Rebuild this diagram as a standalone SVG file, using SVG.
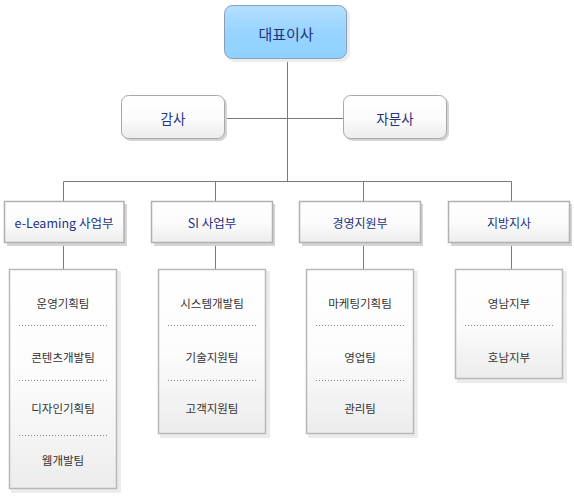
<svg xmlns="http://www.w3.org/2000/svg" width="574" height="496" viewBox="0 0 574 496">
<defs>
<linearGradient id="gBlue" x1="0" y1="0" x2="0" y2="1">
<stop offset="0" stop-color="#b4e0ff"/>
<stop offset="0.5" stop-color="#98d4ff"/>
<stop offset="1" stop-color="#8fd2ff"/>
</linearGradient>
<linearGradient id="gWhite" x1="0" y1="0" x2="0" y2="1">
<stop offset="0" stop-color="#ffffff"/>
<stop offset="0.55" stop-color="#fbfbfb"/>
<stop offset="1" stop-color="#ececec"/>
</linearGradient>
<linearGradient id="gSub" x1="0" y1="0" x2="0" y2="1">
<stop offset="0" stop-color="#ffffff"/>
<stop offset="0.5" stop-color="#fcfcfc"/>
<stop offset="1" stop-color="#ececec"/>
</linearGradient>
</defs>
<style>
.shadow{fill:#d4d4d4;}
.shadow2{fill:#ececec;}
.top{fill:url(#gBlue);stroke:#8a9db5;stroke-width:1;}
.rnd{fill:url(#gWhite);stroke:#a8a8a8;stroke-width:1;}
.dept{fill:url(#gWhite);stroke:#b0b0b0;stroke-width:1.5;}
.sub{fill:url(#gSub);stroke:#b8b8b8;stroke-width:1.5;}
.lbl{font-family:"Noto Sans CJK KR","Liberation Sans",sans-serif;fill:#1f3383;text-anchor:middle;dominant-baseline:central;}
.slbl{font-family:"Noto Sans CJK KR","Liberation Sans",sans-serif;fill:#333333;text-anchor:middle;dominant-baseline:central;font-size:11.5px;}
.conn{stroke:#7a7a7a;stroke-width:1;fill:none;}
.dot{stroke:#888;stroke-width:1;stroke-dasharray:1 2;fill:none;}
</style>

<g id="connectors">
<line class="conn" x1="287.5" y1="59" x2="287.5" y2="181"/>
<line class="conn" x1="225" y1="118.5" x2="343" y2="118.5"/>
<polyline class="conn" points="63.5,201 63.5,181.5 511.5,181.5 511.5,201"/>
<line class="conn" x1="215.5" y1="181.5" x2="215.5" y2="201"/>
<line class="conn" x1="363.5" y1="181.5" x2="363.5" y2="201"/>
<line class="conn" x1="63.5" y1="243" x2="63.5" y2="269"/>
<line class="conn" x1="215.5" y1="243" x2="215.5" y2="269"/>
<line class="conn" x1="363.5" y1="243" x2="363.5" y2="269"/>
<line class="conn" x1="511.5" y1="243" x2="511.5" y2="269"/>
</g>

<g id="ceo">
<rect class="shadow2" x="226" y="7" width="124" height="55" rx="9"/>
<rect class="top" x="224.5" y="5.5" width="122" height="53" rx="8"/>
<text class="lbl" x="286" y="33" font-size="15">대표이사</text>
</g>

<g id="audit">
<rect class="shadow" x="123" y="97" width="104" height="44" rx="8"/>
<rect class="rnd" x="121.5" y="95.5" width="103" height="43" rx="7"/>
<text class="lbl" x="173" y="118" font-size="13.5">감사</text>
</g>

<g id="advisor">
<rect class="shadow" x="345" y="97" width="104" height="44" rx="8"/>
<rect class="rnd" x="343.5" y="95.5" width="103" height="43" rx="7"/>
<text class="lbl" x="395" y="118" font-size="13.5">자문사</text>
</g>

<g id="elearning">
<rect class="shadow" x="7" y="204" width="120" height="42"/>
<rect class="dept" x="4.5" y="201.5" width="119.5" height="41"/>
<text class="lbl" x="64" y="222.5" font-size="12.5">e-Leaming 사업부</text>
</g>

<g id="si">
<rect class="shadow" x="154" y="204" width="121" height="42"/>
<rect class="dept" x="151.5" y="201.5" width="121" height="41"/>
<text class="lbl" x="212" y="222.5" font-size="12.5">SI 사업부</text>
</g>

<g id="management">
<rect class="shadow" x="302" y="204" width="121" height="42"/>
<rect class="dept" x="299.5" y="201.5" width="121" height="41"/>
<text class="lbl" x="360" y="222.5" font-size="12">경영지원부</text>
</g>

<g id="branch">
<rect class="shadow" x="451" y="204" width="121" height="42"/>
<rect class="dept" x="448.5" y="201.5" width="121" height="41"/>
<text class="lbl" x="509" y="222.5" font-size="12">지방지사</text>
</g>

<g id="elearning-teams">
<rect class="shadow2" x="11" y="271" width="110" height="222"/>
<rect class="sub" x="9.5" y="269.5" width="107" height="219"/>
<text class="slbl" x="63" y="302.5">운영기획팀</text>
<line class="dot" x1="19" y1="325.5" x2="108" y2="325.5"/>
<text class="slbl" x="63" y="357">콘텐츠개발팀</text>
<line class="dot" x1="19" y1="380.5" x2="108" y2="380.5"/>
<text class="slbl" x="63" y="407.5">디자인기획팀</text>
<line class="dot" x1="19" y1="435.5" x2="108" y2="435.5"/>
<text class="slbl" x="63" y="460">웹개발팀</text>
</g>

<g id="si-teams">
<rect class="shadow2" x="160" y="271" width="110" height="167"/>
<rect class="sub" x="158.5" y="269.5" width="107" height="164"/>
<text class="slbl" x="212" y="302.5">시스템개발팀</text>
<line class="dot" x1="168" y1="325.5" x2="257" y2="325.5"/>
<text class="slbl" x="212" y="357">기술지원팀</text>
<line class="dot" x1="168" y1="380.5" x2="257" y2="380.5"/>
<text class="slbl" x="212" y="407.5">고객지원팀</text>
</g>

<g id="management-teams">
<rect class="shadow2" x="308" y="271" width="110" height="167"/>
<rect class="sub" x="306.5" y="269.5" width="107" height="164"/>
<text class="slbl" x="360" y="302.5">마케팅기획팀</text>
<line class="dot" x1="316" y1="325.5" x2="405" y2="325.5"/>
<text class="slbl" x="360" y="357">영업팀</text>
<line class="dot" x1="316" y1="380.5" x2="405" y2="380.5"/>
<text class="slbl" x="360" y="407.5">관리팀</text>
</g>

<g id="branch-teams">
<rect class="shadow2" x="457" y="271" width="110" height="112"/>
<rect class="sub" x="455.5" y="269.5" width="107" height="109"/>
<text class="slbl" x="509" y="302.5">영남지부</text>
<line class="dot" x1="465" y1="325.5" x2="554" y2="325.5"/>
<text class="slbl" x="509" y="357">호남지부</text>
</g>
</svg>
